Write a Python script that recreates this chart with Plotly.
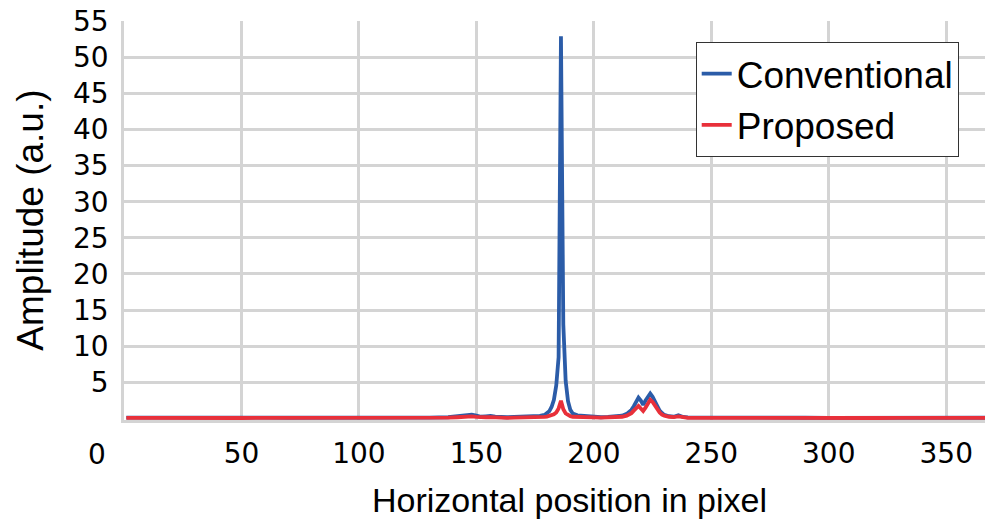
import plotly.graph_objects as go

# Horizontal pixel index and the amplitude of each method at that pixel
pixel = [1, 10, 20, 30, 40, 50, 60, 70, 80, 90, 100, 110, 120, 130, 138, 142, 145,
         148, 150, 152, 154, 156, 158, 160, 163, 166, 170, 174, 177, 179, 180, 181,
         182, 183, 184, 185, 186, 187, 188, 189, 190, 191, 193, 196, 200, 203, 206,
         209, 212, 214, 216, 217, 218, 219, 220, 221, 222, 223, 224, 225, 226, 227,
         228, 229, 230, 232, 234, 236, 238, 240, 250, 260, 270, 280, 290, 300, 310,
         320, 330, 340, 350, 360, 370]

conventional = [0.12, 0.10, 0.12, 0.10, 0.11, 0.10, 0.12, 0.11, 0.10, 0.12, 0.10, 0.11,
                0.12, 0.14, 0.18, 0.30, 0.45, 0.55, 0.40, 0.25, 0.30, 0.35, 0.25, 0.20,
                0.18, 0.22, 0.25, 0.30, 0.38, 0.50, 0.70, 1.00, 1.60, 2.60, 4.60, 8.50,
                52.9, 13.0, 5.20, 2.40, 1.20, 0.70, 0.45, 0.35, 0.28, 0.18, 0.22, 0.28,
                0.40, 0.65, 1.20, 1.70, 2.40, 2.90, 2.50, 1.90, 2.50, 3.10, 3.45, 3.00,
                2.30, 1.60, 1.10, 0.75, 0.50, 0.32, 0.25, 0.45, 0.22, 0.15, 0.12, 0.10,
                0.12, 0.10, 0.11, 0.10, 0.12, 0.10, 0.11, 0.10, 0.12, 0.10, 0.11]

proposed = [0.10, 0.08, 0.10, 0.08, 0.09, 0.08, 0.10, 0.09, 0.08, 0.10, 0.08, 0.09,
            0.10, 0.10, 0.12, 0.18, 0.25, 0.30, 0.22, 0.15, 0.18, 0.20, 0.15, 0.12,
            0.10, 0.12, 0.12, 0.15, 0.18, 0.22, 0.28, 0.35, 0.45, 0.60, 0.85, 1.40,
            2.45, 1.30, 0.70, 0.45, 0.32, 0.25, 0.20, 0.18, 0.15, 0.12, 0.14, 0.18,
            0.25, 0.40, 0.75, 1.10, 1.50, 1.75, 1.40, 1.05, 1.50, 2.20, 2.60, 2.30,
            1.80, 1.25, 0.85, 0.55, 0.40, 0.25, 0.20, 0.30, 0.15, 0.10, 0.10, 0.08,
            0.10, 0.08, 0.09, 0.08, 0.10, 0.08, 0.09, 0.08, 0.10, 0.08, 0.09]

x_ticks = [50, 100, 150, 200, 250, 300, 350]
y_ticks = [5, 10, 15, 20, 25, 30, 35, 40, 45, 50, 55]

assert len(pixel) == len(conventional) == len(proposed)

FONT = "Liberation Sans, Arial, sans-serif"
TICK_FONT = "DejaVu Sans, Liberation Sans, sans-serif"
GRID = "#d4d4d4"

fig = go.Figure()
fig.add_trace(go.Scatter(x=pixel, y=conventional, mode="lines", name="Conventional",
                         line=dict(color="#2B5CA8", width=3.8)))
fig.add_trace(go.Scatter(x=pixel, y=proposed, mode="lines", name="Proposed",
                         line=dict(color="#E8303A", width=3.8)))

fig.update_layout(
    width=985, height=523,
    margin=dict(l=124, r=0, t=21, b=103),
    paper_bgcolor="white", plot_bgcolor="white",
    font=dict(family=FONT, color="#000000"),
    showlegend=True,
    legend=dict(
        x=0.664, y=0.947, xanchor="left", yanchor="top",
        bgcolor="white", bordercolor="#333333", borderwidth=1,
        font=dict(size=37, family=FONT, color="#000000"),
        tracegroupgap=0, itemwidth=30,
    ),
)

fig.update_xaxes(
    range=[0, 366.5], tickvals=x_ticks, ticktext=[str(v) for v in x_ticks],
    showgrid=True, gridcolor=GRID, gridwidth=2.5,
    showline=True, linecolor=GRID, linewidth=2.5, layer="below traces",
    zeroline=False, ticks="", ticklabelstandoff=7,
    tickfont=dict(size=28, family=TICK_FONT, color="#000000"),
)
fig.update_yaxes(
    range=[-0.2, 55], tickvals=y_ticks, ticktext=[str(v) for v in y_ticks],
    showgrid=True, gridcolor=GRID, gridwidth=2.5,
    showline=True, linecolor=GRID, linewidth=2.5, layer="below traces",
    zeroline=False, ticks="", ticklabelstandoff=7,
    tickfont=dict(size=28, family=TICK_FONT, color="#000000"),
)

# Origin label, axis titles
fig.add_annotation(text="0", xref="paper", yref="paper", x=-0.0314, y=-0.0865,
                   showarrow=False, xanchor="center", yanchor="middle",
                   font=dict(size=28, family=TICK_FONT, color="#000000"))
fig.add_annotation(text="Horizontal position in pixel", xref="paper", yref="paper",
                   x=0.517, y=-0.2, showarrow=False, xanchor="center", yanchor="middle",
                   font=dict(size=34, family=FONT, color="#000000"))
fig.add_annotation(text="Amplitude (a.u.)", xref="paper", yref="paper",
                   x=-0.109, y=0.5, showarrow=False, textangle=-90,
                   xanchor="center", yanchor="middle",
                   font=dict(size=37, family=FONT, color="#000000"))

fig.write_html("out.html")
